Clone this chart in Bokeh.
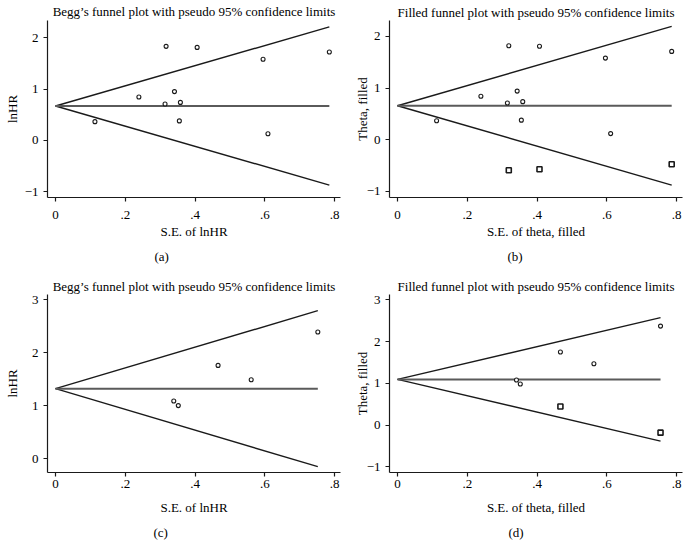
from bokeh.plotting import figure
from bokeh.layouts import column, row
from bokeh.models import FixedTicker, Title, Range1d
from bokeh.embed import file_html
from bokeh.resources import INLINE

# ---------------- data ----------------
# Panel (a): Begg's funnel plot, lnHR vs S.E.
a_se = [0.113, 0.239, 0.317, 0.314, 0.341, 0.358, 0.355, 0.406, 0.595, 0.609, 0.785]
a_lnhr = [0.365, 0.846, 1.83, 0.71, 0.95, 0.74, 0.38, 1.81, 1.58, 0.13, 1.72]
a_theta = 0.67

# Panel (b): filled funnel plot
b_se = [0.112, 0.239, 0.319, 0.315, 0.343, 0.359, 0.355, 0.407, 0.596, 0.611, 0.786]
b_theta_obs = [0.364, 0.84, 1.82, 0.71, 0.94, 0.735, 0.376, 1.81, 1.58, 0.115, 1.71]
b_fill_se = [0.319, 0.407, 0.786]
b_fill_theta = [-0.595, -0.576, -0.48]
b_theta = 0.655

# Panel (c): Begg's funnel plot
c_se = [0.339, 0.352, 0.466, 0.561, 0.752]
c_lnhr = [1.087, 1.0, 1.76, 1.49, 2.39]
c_theta = 1.32

# Panel (d): filled funnel plot
d_se = [0.341, 0.352, 0.467, 0.563, 0.754]
d_theta_obs = [1.08, 0.985, 1.75, 1.47, 2.37]
d_fill_se = [0.467, 0.754]
d_fill_theta = [0.445, -0.18]
d_theta = 1.095

x_ticks = [0, 0.2, 0.4, 0.6, 0.8]
x_tick_labels = ["0", ".2", ".4", ".6", ".8"]
ab_y_ticks = [-1, 0, 1, 2]
c_y_ticks = [0, 1, 2, 3]
d_y_ticks = [-1, 0, 1, 2, 3]

titles = ["Begg\u2019s funnel plot with pseudo 95% confidence limits",
          "Filled funnel plot with pseudo 95% confidence limits"]
FONT = "Liberation Serif"
FS = "13px"
INK = "#1a1a1a"


def ytick_label(v):
    return ("\u2212" + str(abs(v))) if v < 0 else str(v)


def panel(title, xlabel, ylabel, tag, se, yv, fill_se, fill_y, theta, yticks,
          yrange, width, height, bl, br, bt, bb, title_standoff, y_als,
          x_std, x_als, tag_standoff, tag_offset):
    p = figure(width=width, height=height, output_backend="svg", toolbar_location=None,
               x_range=Range1d(-0.023, 0.817), y_range=Range1d(*yrange),
               min_border_left=bl, min_border_right=br, min_border_top=bt,
               min_border_bottom=bb, title=title)
    p.outline_line_color = None
    p.grid.visible = False
    p.background_fill_color = "white"
    p.border_fill_color = "white"

    p.title.align = "center"
    p.title.text_font = FONT
    p.title.text_font_size = FS
    p.title.text_font_style = "normal"
    p.title.text_color = "black"
    p.title.standoff = title_standoff

    for ax in (p.xaxis[0], p.yaxis[0]):
        ax.axis_line_color = INK
        ax.axis_line_width = 1.2
        ax.major_tick_line_color = INK
        ax.major_tick_line_width = 1.2
        ax.major_tick_out = 4
        ax.major_tick_in = 0
        ax.minor_tick_line_color = None
        ax.major_label_text_font = FONT
        ax.major_label_text_font_size = FS
        ax.major_label_text_color = "black"
        ax.axis_label_text_font = FONT
        ax.axis_label_text_font_size = FS
        ax.axis_label_text_font_style = "normal"
        ax.axis_label_text_color = "black"

    p.xaxis.ticker = FixedTicker(ticks=x_ticks)
    p.xaxis.major_label_overrides = dict(zip(x_ticks, x_tick_labels))
    p.xaxis.major_label_standoff = x_std
    p.xaxis.axis_label = xlabel
    p.xaxis.axis_label_standoff = x_als

    p.yaxis.ticker = FixedTicker(ticks=yticks)
    p.yaxis.major_label_overrides = {v: ytick_label(v) for v in yticks}
    p.yaxis.major_label_standoff = 5
    p.yaxis.major_label_orientation = "horizontal"
    p.yaxis.axis_label = ylabel
    p.yaxis.axis_label_standoff = y_als

    smax = max(se + fill_se)
    lx = [0, smax]
    p.line(lx, [theta, theta + 1.96 * smax], line_color=INK, line_width=1.4)
    p.line(lx, [theta, theta - 1.96 * smax], line_color=INK, line_width=1.4)
    p.line(lx, [theta, theta], line_color="#5a5a5a", line_width=2)

    p.scatter(se, yv, marker="circle", size=4, fill_color="white",
              line_color=INK, line_width=1.1)
    if fill_se:
        p.scatter(fill_se, fill_y, marker="square", size=5, fill_color="white",
                  line_color=INK, line_width=1.6)

    t = Title(text=tag, align="left", offset=tag_offset, text_font=FONT,
              text_font_size=FS, text_font_style="normal", text_color="black",
              standoff=tag_standoff)
    p.add_layout(t, "below")
    return p


pa = panel(titles[0], "S.E. of lnHR", "lnHR", "(a)", a_se, a_lnhr, [], [], a_theta,
           ab_y_ticks, (-1.11, 2.333), 345, 275, 47, 5, 20, 76,
           3, 2, 9, 2, 11, 107)
pb = panel(titles[1], "S.E. of theta, filled", "Theta, filled", "(b)", b_se, b_theta_obs,
           b_fill_se, b_fill_theta, b_theta, ab_y_ticks, (-1.125, 2.31), 338, 275,
           44, 1, 18, 78, 1, -6, 9, 2, 11, 118)
pc = panel(titles[0], "S.E. of lnHR", "lnHR", "(c)", c_se, c_lnhr, [], [], c_theta,
           c_y_ticks, (-0.264, 3.10), 345, 277, 47, 5, 19, 80,
           2, 9, 3, 9, 10, 106)
pd = panel(titles[1], "S.E. of theta, filled", "Theta, filled", "(d)", d_se, d_theta_obs,
           d_fill_se, d_fill_theta, d_theta, d_y_ticks, (-1.134, 3.127), 338, 277,
           44, 1, 19, 80, 2, -6, 3, 9, 10, 119)

layout = column(row(pa, pb, spacing=0), row(pc, pd, spacing=0), spacing=0)

open("out.html", "w").write(file_html(layout, INLINE))
